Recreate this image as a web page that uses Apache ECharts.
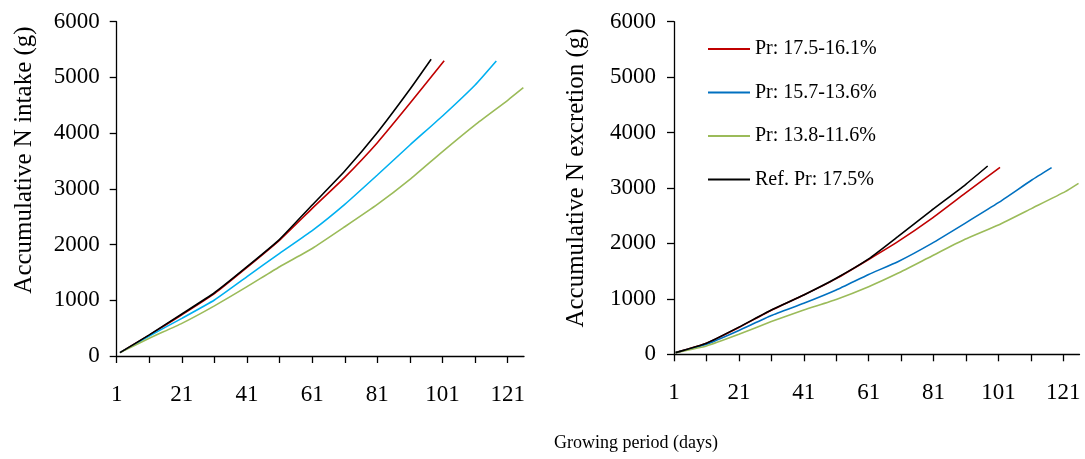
<!DOCTYPE html>
<html>
<head>
<meta charset="utf-8">
<script src="https://cdn.jsdelivr.net/npm/echarts@6/dist/echarts.min.js"></script>
<style>
  html, body { margin: 0; padding: 0; background: #fff; }
  #chart { width: 1085px; height: 459px; }
</style>
</head>
<body>
<div id="chart"></div>
<script>
// ticks on the day axis
const dayTicks = [1, 11, 21, 31, 41, 51, 61, 71, 81, 91, 101, 111, 121];
const dayLabels = [1, 21, 41, 61, 81, 101, 121];

// legend names (right panel)
const legendNames = ['Pr: 17.5-16.1%', 'Pr: 15.7-13.6%', 'Pr: 13.8-11.6%', 'Ref. Pr: 17.5%'];

// accumulative N intake (g), [day, value]
const intakeRed = [[2, 60], [11, 375], [21, 740], [31, 1120], [41, 1590], [51, 2080], [61, 2650], [71, 3207], [81, 3829], [91, 4535], [101.5, 5300]];
const intakeBlue = [[2, 60], [11, 360], [21, 676], [31, 1005], [41, 1424], [51, 1843], [61, 2250], [71, 2722], [81, 3249], [91, 3787], [101, 4308], [111, 4864], [117.5, 5295]];
const intakeGreen = [[2, 60], [11, 320], [21, 586], [31, 900], [41, 1244], [51, 1603], [61, 1930], [71, 2320], [81, 2720], [91, 3170], [101, 3670], [111, 4150], [121, 4590], [125.8, 4815]];
const intakeRef = [[2, 60], [11, 380], [21, 754], [31, 1135], [41, 1603], [51, 2094], [61, 2710], [71, 3320], [81, 4010], [91, 4786], [97.5, 5325]];

// accumulative N excretion (g), [day, value]
const excrRed = [[1.5, 30], [11, 200], [21, 485], [31, 795], [41, 1070], [51, 1365], [61, 1710], [70, 2032], [80.5, 2453], [90.7, 2904], [101.5, 3373]];
const excrBlue = [[1.5, 30], [11, 180], [21, 430], [31, 700], [41, 920], [51, 1160], [61, 1440], [70, 1671], [80.5, 2002], [90.7, 2363], [101, 2735], [111.3, 3144], [117.4, 3367]];
const excrGreen = [[1.5, 30], [11, 150], [21, 360], [31, 590], [41, 800], [51, 990], [61, 1220], [70, 1461], [80.5, 1774], [90.7, 2074], [101, 2333], [111.3, 2633], [121.6, 2934], [125.7, 3084]];
const excrRef = [[1.5, 30], [11, 200], [21, 490], [31, 800], [41, 1070], [51, 1371], [61, 1720], [70, 2122], [80.5, 2603], [90.7, 3054], [97.7, 3397]];

const serif = '"Liberation Serif", "Times New Roman", serif';

const chart = echarts.init(document.getElementById('chart'), null, { renderer: 'canvas' });

function xAxisFor(gridIndex, max) {
  return {
    type: 'value',
    gridIndex: gridIndex,
    min: 1,
    max: max,
    axisLine: { show: true, onZero: false, lineStyle: { color: '#000', width: 1.3 } },
    axisTick: { show: true, customValues: dayTicks, length: 7, lineStyle: { color: '#000', width: 1.3 } },
    axisLabel: { show: true, customValues: dayLabels, margin: 27, fontSize: 23, fontFamily: serif, color: '#000' },
    splitLine: { show: false }
  };
}

function yAxisFor(gridIndex, margin) {
  return {
    type: 'value',
    gridIndex: gridIndex,
    min: 0,
    max: 6000,
    interval: 1000,
    axisLine: { show: true, lineStyle: { color: '#000', width: 1.3 } },
    axisTick: { show: true, length: 7, lineStyle: { color: '#000', width: 1.3 } },
    axisLabel: {
      show: true, margin: margin, fontSize: 23, fontFamily: serif, color: '#000',
      formatter: function (v) { return String(v); }
    },
    splitLine: { show: false }
  };
}

function line(name, data, color, idx) {
  return {
    name: name,
    type: 'line',
    data: data,
    xAxisIndex: idx,
    yAxisIndex: idx,
    showSymbol: false,
    symbol: 'none',
    smooth: 0.15,
    lineStyle: { color: color, width: 1.6 },
    itemStyle: { color: color },
    silent: true
  };
}

const option = {
  animation: false,
  backgroundColor: '#fff',
  grid: [
    { left: 116.7, top: 21.7, width: 407.3, height: 334.3, outerBoundsMode: 'none', containLabel: false },
    { left: 674, top: 21.7, width: 405.5, height: 332.6, outerBoundsMode: 'none', containLabel: false }
  ],
  xAxis: [xAxisFor(0, 126), xAxisFor(1, 126)],
  yAxis: [yAxisFor(0, 17), yAxisFor(1, 18)],
  legend: {
    data: legendNames,
    orient: 'vertical',
    left: 708,
    top: 39,
    padding: 0,
    itemWidth: 42,
    itemHeight: 2,
    itemGap: 23.5,
    icon: 'rect',
    selectedMode: false,
    textStyle: { fontSize: 20, fontFamily: serif, color: '#000' }
  },
  graphic: [
    {
      type: 'text', x: 24, y: 160, rotation: Math.PI / 2,
      style: { text: 'Accumulative N intake (g)', fontSize: 25, fontFamily: serif, fill: '#000',
        align: 'center', verticalAlign: 'middle', textAlign: 'center', textVerticalAlign: 'middle' }
    },
    {
      type: 'text', x: 576, y: 178, rotation: Math.PI / 2,
      style: { text: 'Accumulative N excretion (g)', fontSize: 25, fontFamily: serif, fill: '#000',
        align: 'center', verticalAlign: 'middle', textAlign: 'center', textVerticalAlign: 'middle' }
    },
    {
      type: 'text', x: 636, y: 443,
      style: { text: 'Growing period (days)', fontSize: 18, fontFamily: serif, fill: '#000',
        align: 'center', verticalAlign: 'middle', textAlign: 'center', textVerticalAlign: 'middle' }
    }
  ],
  series: [
    line('Intake 17.5-16.1%', intakeRed, '#C00000', 0),
    line('Intake 15.7-13.6%', intakeBlue, '#00B0F0', 0),
    line('Intake 13.8-11.6%', intakeGreen, '#9BBB59', 0),
    line('Intake Ref 17.5%', intakeRef, '#000000', 0),
    line(legendNames[0], excrRed, '#C00000', 1),
    line(legendNames[1], excrBlue, '#0070C0', 1),
    line(legendNames[2], excrGreen, '#9BBB59', 1),
    line(legendNames[3], excrRef, '#000000', 1)
  ]
};

chart.setOption(option);
</script>
</body>
</html>
